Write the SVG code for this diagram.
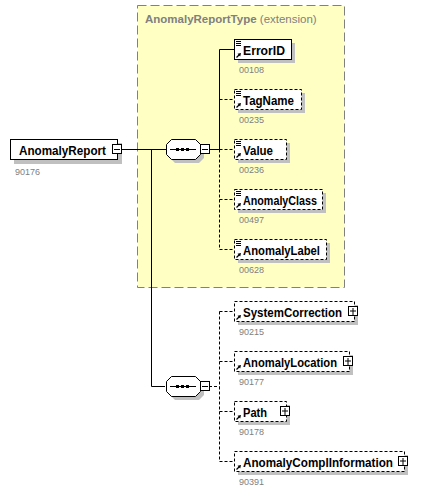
<svg xmlns="http://www.w3.org/2000/svg" width="440" height="494" viewBox="0 0 440 494">
<defs>
<style>
.name{font-family:"Liberation Sans",Arial,sans-serif;font-weight:bold;font-size:12px;fill:#000}
.num{font-family:"Liberation Sans",Arial,sans-serif;font-size:9px;fill:#808080}
.ttl{font-family:"Liberation Sans",Arial,sans-serif;font-size:11.5px;fill:#808080}
.box{fill:#fff;stroke:#000;stroke-width:1}
.dbox{fill:#fff;stroke:#000;stroke-width:1;stroke-dasharray:3,2}
.sh{fill:#c0c0c0}
.ln{fill:none;stroke:#000;stroke-width:1}
.dln{fill:none;stroke:#000;stroke-width:1;stroke-dasharray:3,2}
.pm{fill:#fff;stroke:#000;stroke-width:1}
</style>
<g id="listicon"><path d="M236 41.5h5M236 43.5h5M236 45.5h5" stroke="#000" stroke-width="1"/></g>
<g id="arrowicon"><path d="M236.5 57.5L239.5 54.5" stroke="#000" stroke-width="1.2"/><path d="M241 53L237.5 53.8L240.2 56.5Z" fill="#000"/></g>
</defs>
<rect width="440" height="494" fill="#fff"/>
<g id="type-box">
<rect x="137.5" y="5.5" width="207" height="282" fill="#ffffc4" stroke="#808080" stroke-dasharray="9,4"/>
<text x="145" y="22.5" class="ttl"><tspan font-weight="bold">AnomalyReportType</tspan> (extension)</text>
</g>
<g id="connectors">
<path class="ln" d="M121 149.5H166"/>
<path class="ln" d="M151.5 149.5V386.5H165"/>
<path class="ln" d="M209 149.5H219.5M219.5 49.5V149.5M219.5 49.5H234"/>
<path class="dln" d="M219.5 149.5V249.5M219.5 99.5H234M219.5 149.5H234M219.5 199.5H234M219.5 249.5H234"/>
<path class="dln" d="M209 386.5H219.5M219.5 311.5V461.5M219.5 311.5H234M219.5 361.5H234M219.5 411.5H234M219.5 461.5H234"/>
</g>
<g id="AnomalyReport">
<rect class="sh" x="14" y="143" width="108" height="21"/>
<rect class="box" x="10.5" y="139.5" width="107" height="20"/>
<text x="19" y="154.5" class="name" textLength="87" lengthAdjust="spacingAndGlyphs">AnomalyReport</text>
<rect class="pm" x="112.5" y="144.5" width="9" height="9"/>
<path d="M114 149.5h6" stroke="#000"/>
<text x="15" y="175" class="num">90176</text>
</g>
<g id="sequence1">
<path class="sh" d="M175 143H199L204 148V158L199 163H175L170 158V148Z"/>
<path class="box" d="M171.5 139.5H195.5L200.5 144.5V154.5L195.5 159.5H171.5L166.5 154.5V144.5Z"/>
<path d="M170 149.5H196" stroke="#000"/>
<rect x="176" y="148" width="3" height="3"/><rect x="181" y="148" width="3" height="3"/><rect x="186" y="148" width="3" height="3"/>
<rect class="pm" x="200.5" y="144.5" width="9" height="9"/>
<path d="M202 149.5h6" stroke="#000"/>
</g>
<g id="ErrorID">
<rect class="sh" x="238" y="43" width="57" height="20"/>
<rect class="box" x="234.5" y="39.5" width="57" height="20"/>
<use href="#listicon"/><use href="#arrowicon"/>
<text x="243" y="55" class="name" textLength="42" lengthAdjust="spacingAndGlyphs">ErrorID</text>
<text x="239" y="73" class="num">00108</text>
</g>
<g id="TagName">
<rect class="sh" x="238" y="93" width="67" height="20"/>
<rect class="dbox" x="234.5" y="89.5" width="67" height="20"/>
<use href="#listicon" y="50"/><use href="#arrowicon" y="50"/>
<text x="243" y="105" class="name" textLength="51" lengthAdjust="spacingAndGlyphs">TagName</text>
<text x="239" y="123" class="num">00235</text>
</g>
<g id="Value">
<rect class="sh" x="238" y="143" width="52" height="20"/>
<rect class="dbox" x="234.5" y="139.5" width="52" height="20"/>
<use href="#listicon" y="100"/><use href="#arrowicon" y="100"/>
<text x="243" y="155" class="name" textLength="30" lengthAdjust="spacingAndGlyphs">Value</text>
<text x="239" y="173" class="num">00236</text>
</g>
<g id="AnomalyClass">
<rect class="sh" x="238" y="193" width="88" height="20"/>
<rect class="dbox" x="234.5" y="189.5" width="88" height="20"/>
<use href="#listicon" y="150"/><use href="#arrowicon" y="150"/>
<text x="243" y="205" class="name" textLength="74" lengthAdjust="spacingAndGlyphs">AnomalyClass</text>
<text x="239" y="223" class="num">00497</text>
</g>
<g id="AnomalyLabel">
<rect class="sh" x="238" y="243" width="92" height="20"/>
<rect class="dbox" x="234.5" y="239.5" width="92" height="20"/>
<use href="#listicon" y="200"/><use href="#arrowicon" y="200"/>
<text x="243" y="255" class="name" textLength="77" lengthAdjust="spacingAndGlyphs">AnomalyLabel</text>
<text x="239" y="273" class="num">00628</text>
</g>
<g id="sequence2">
<path class="sh" d="M175 380H199L204 385V395L199 400H175L170 395V385Z"/>
<path class="box" d="M171.5 376.5H195.5L200.5 381.5V391.5L195.5 396.5H171.5L166.5 391.5V381.5Z"/>
<path d="M170 386.5H196" stroke="#000"/>
<rect x="176" y="385" width="3" height="3"/><rect x="181" y="385" width="3" height="3"/><rect x="186" y="385" width="3" height="3"/>
<rect class="pm" x="200.5" y="381.5" width="9" height="9"/>
<path d="M202 386.5h6" stroke="#000"/>
</g>
<g id="SystemCorrection">
<rect class="sh" x="238" y="305" width="120" height="20"/>
<rect class="dbox" x="234.5" y="301.5" width="120" height="20"/>
<use href="#arrowicon" y="262"/>
<text x="243" y="317" class="name" textLength="99" lengthAdjust="spacingAndGlyphs">SystemCorrection</text>
<rect class="pm" x="348.5" y="306.5" width="9" height="9"/>
<path d="M350 311h6M353 308v7" stroke="#000"/>
<text x="239" y="335" class="num">90215</text>
</g>
<g id="AnomalyLocation">
<rect class="sh" x="238" y="355" width="115" height="20"/>
<rect class="dbox" x="234.5" y="351.5" width="115" height="20"/>
<use href="#arrowicon" y="312"/>
<text x="243" y="367" class="name" textLength="94" lengthAdjust="spacingAndGlyphs">AnomalyLocation</text>
<rect class="pm" x="343.5" y="356.5" width="9" height="9"/>
<path d="M345 361h6M348 358v7" stroke="#000"/>
<text x="239" y="385" class="num">90177</text>
</g>
<g id="Path">
<rect class="sh" x="238" y="405" width="52" height="20"/>
<rect class="dbox" x="234.5" y="401.5" width="52" height="20"/>
<use href="#arrowicon" y="362"/>
<text x="243" y="417" class="name" textLength="24" lengthAdjust="spacingAndGlyphs">Path</text>
<rect class="pm" x="280.5" y="406.5" width="9" height="9"/>
<path d="M282 411h6M285 408v7" stroke="#000"/>
<text x="239" y="435" class="num">90178</text>
</g>
<g id="AnomalyComplInformation">
<rect class="sh" x="238" y="455" width="170" height="20"/>
<rect class="dbox" x="234.5" y="451.5" width="170" height="20"/>
<use href="#arrowicon" y="412"/>
<text x="243" y="467" class="name" textLength="150" lengthAdjust="spacingAndGlyphs">AnomalyComplInformation</text>
<rect class="pm" x="398.5" y="456.5" width="9" height="9"/>
<path d="M400 461h6M403 458v7" stroke="#000"/>
<text x="239" y="485" class="num">90391</text>
</g>
</svg>
